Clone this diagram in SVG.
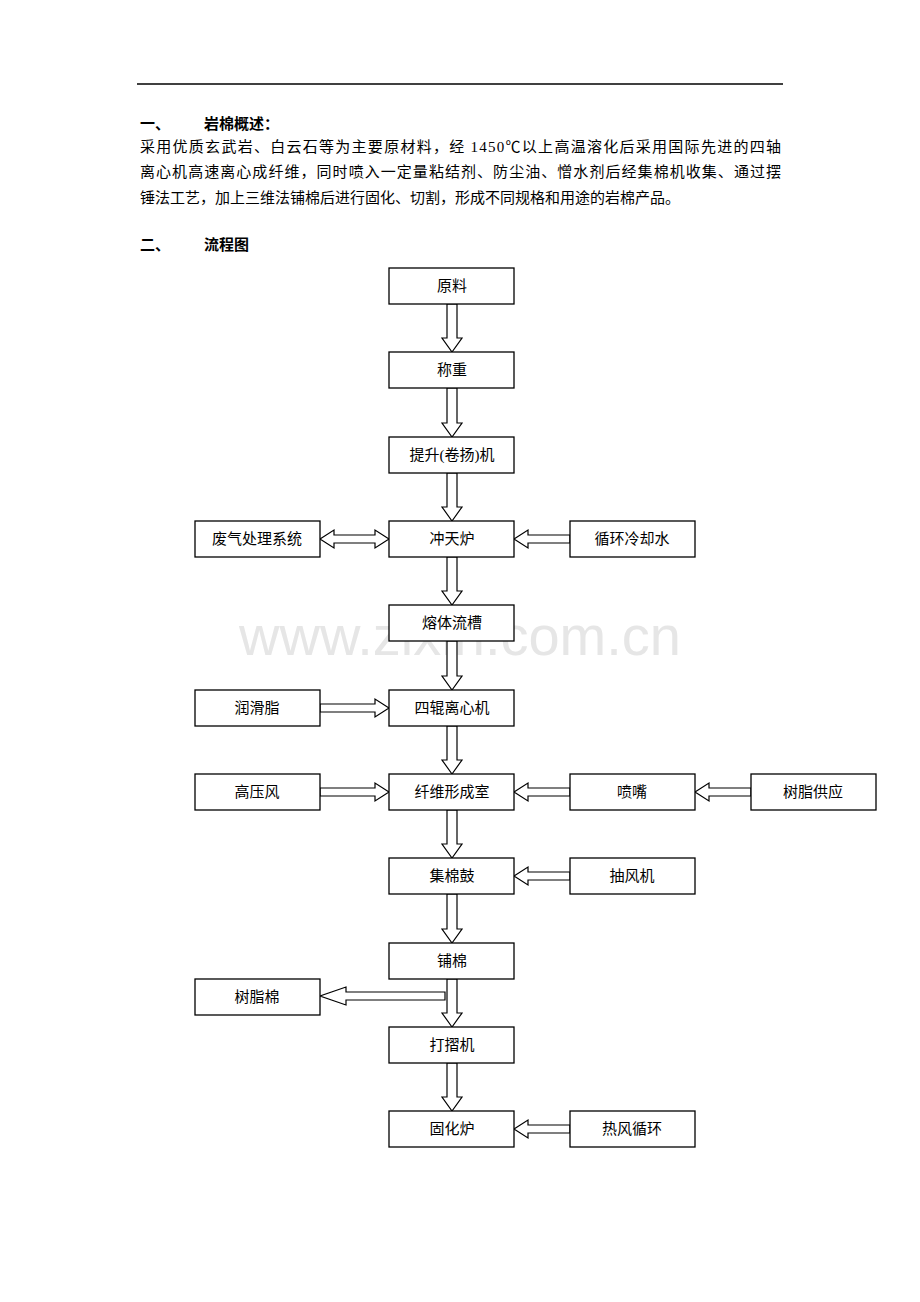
<svg xmlns="http://www.w3.org/2000/svg" width="920" height="1302" viewBox="0 0 920 1302">
<style>
.b{fill:#fff;stroke:#000;stroke-width:1.3}
.t{font-family:"Liberation Serif","Noto Sans CJK SC",serif;font-size:15px;fill:#000}
.c{text-anchor:middle}
.a{fill:#fff;stroke:#000;stroke-width:1.2}
.h{font-weight:bold}
</style>
<rect width="920" height="1302" fill="#fff"/>
<line x1="137" y1="84" x2="783" y2="84" stroke="#000" stroke-width="1.3"/>
<text class="t h" x="140" y="129">一、</text><text class="t h" x="204" y="129">岩棉概述：</text>
<text class="t" x="140" y="152" textLength="641">采用优质玄武岩、白云石等为主要原材料，经 1450℃以上高温溶化后采用国际先进的四轴</text>
<text class="t" x="140" y="177" textLength="641">离心机高速离心成纤维，同时喷入一定量粘结剂、防尘油、憎水剂后经集棉机收集、通过摆</text>
<text class="t" x="140" y="203">锤法工艺，加上三维法铺棉后进行固化、切割，形成不同规格和用途的岩棉产品。</text>
<text class="t h" x="140" y="250">二、</text><text class="t h" x="204" y="250">流程图</text>
<text x="460" y="655" font-family="Liberation Sans,sans-serif" font-size="56" fill="#e6e6e6" text-anchor="middle">www.zixin.com.cn</text>
<g id="connectors">
<polygon class="a" points="447,304 457,304 457,338 462,338 452,352 442,338 447,338"/>
<polygon class="a" points="447,388 457,388 457,423 462,423 452,437 442,423 447,423"/>
<polygon class="a" points="447,473 457,473 457,507 462,507 452,521 442,507 447,507"/>
<polygon class="a" points="447,557 457,557 457,591 462,591 452,605 442,591 447,591"/>
<polygon class="a" points="447,641 457,641 457,676 462,676 452,690 442,676 447,676"/>
<polygon class="a" points="447,726 457,726 457,760 462,760 452,774 442,760 447,760"/>
<polygon class="a" points="447,810 457,810 457,844 462,844 452,858 442,844 447,844"/>
<polygon class="a" points="447,894 457,894 457,929 462,929 452,943 442,929 447,929"/>
<polygon class="a" points="447,979 457,979 457,1013 462,1013 452,1027 442,1013 447,1013"/>
<polygon class="a" points="447,1063 457,1063 457,1097 462,1097 452,1111 442,1097 447,1097"/>
<polygon class="a" points="334,535 375,535 375,530 389,539 375,548 375,543 334,543 334,548 320,539 334,530"/>
<polygon class="a" points="570,535 528,535 528,530 514,539 528,548 528,543 570,543"/>
<polygon class="a" points="320,704 375,704 375,699 389,708 375,717 375,712 320,712"/>
<polygon class="a" points="320,788 375,788 375,783 389,792 375,801 375,796 320,796"/>
<polygon class="a" points="570,788 528,788 528,783 514,792 528,801 528,796 570,796"/>
<polygon class="a" points="751,788 709,788 709,783 695,792 709,801 709,796 751,796"/>
<polygon class="a" points="570,872 528,872 528,867 514,876 528,885 528,880 570,880"/>
<polygon class="a" points="445,992 346,992 346,987 320,996 346,1005 346,1000 445,1000"/>
<polygon class="a" points="570,1125 528,1125 528,1120 514,1129 528,1138 528,1133 570,1133"/>
</g>
<g id="n1"><rect class="b" x="389" y="268" width="125" height="36"/><text class="t c" x="452" y="291">原料</text></g>
<g id="n2"><rect class="b" x="389" y="352" width="125" height="36"/><text class="t c" x="452" y="375">称重</text></g>
<g id="n3"><rect class="b" x="389" y="437" width="125" height="36"/><text class="t c" x="452" y="460">提升(卷扬)机</text></g>
<g id="n4"><rect class="b" x="389" y="521" width="125" height="36"/><text class="t c" x="452" y="544">冲天炉</text></g>
<g id="n5"><rect class="b" x="195" y="521" width="125" height="36"/><text class="t c" x="257" y="544">废气处理系统</text></g>
<g id="n6"><rect class="b" x="570" y="521" width="125" height="36"/><text class="t c" x="632" y="544">循环冷却水</text></g>
<g id="n7"><rect class="b" x="389" y="605" width="125" height="36"/><text class="t c" x="452" y="628">熔体流槽</text></g>
<g id="n8"><rect class="b" x="389" y="690" width="125" height="36"/><text class="t c" x="452" y="713">四辊离心机</text></g>
<g id="n9"><rect class="b" x="195" y="690" width="125" height="36"/><text class="t c" x="257" y="713">润滑脂</text></g>
<g id="n10"><rect class="b" x="389" y="774" width="125" height="36"/><text class="t c" x="452" y="797">纤维形成室</text></g>
<g id="n11"><rect class="b" x="195" y="774" width="125" height="36"/><text class="t c" x="257" y="797">高压风</text></g>
<g id="n12"><rect class="b" x="570" y="774" width="125" height="36"/><text class="t c" x="632" y="797">喷嘴</text></g>
<g id="n13"><rect class="b" x="751" y="774" width="125" height="36"/><text class="t c" x="813" y="797">树脂供应</text></g>
<g id="n14"><rect class="b" x="389" y="858" width="125" height="36"/><text class="t c" x="452" y="881">集棉鼓</text></g>
<g id="n15"><rect class="b" x="570" y="858" width="125" height="36"/><text class="t c" x="632" y="881">抽风机</text></g>
<g id="n16"><rect class="b" x="389" y="943" width="125" height="36"/><text class="t c" x="452" y="966">铺棉</text></g>
<g id="n17"><rect class="b" x="195" y="979" width="125" height="36"/><text class="t c" x="257" y="1002">树脂棉</text></g>
<g id="n18"><rect class="b" x="389" y="1027" width="125" height="36"/><text class="t c" x="452" y="1050">打摺机</text></g>
<g id="n19"><rect class="b" x="389" y="1111" width="125" height="36"/><text class="t c" x="452" y="1134">固化炉</text></g>
<g id="n20"><rect class="b" x="570" y="1111" width="125" height="36"/><text class="t c" x="632" y="1134">热风循环</text></g>
</svg>
